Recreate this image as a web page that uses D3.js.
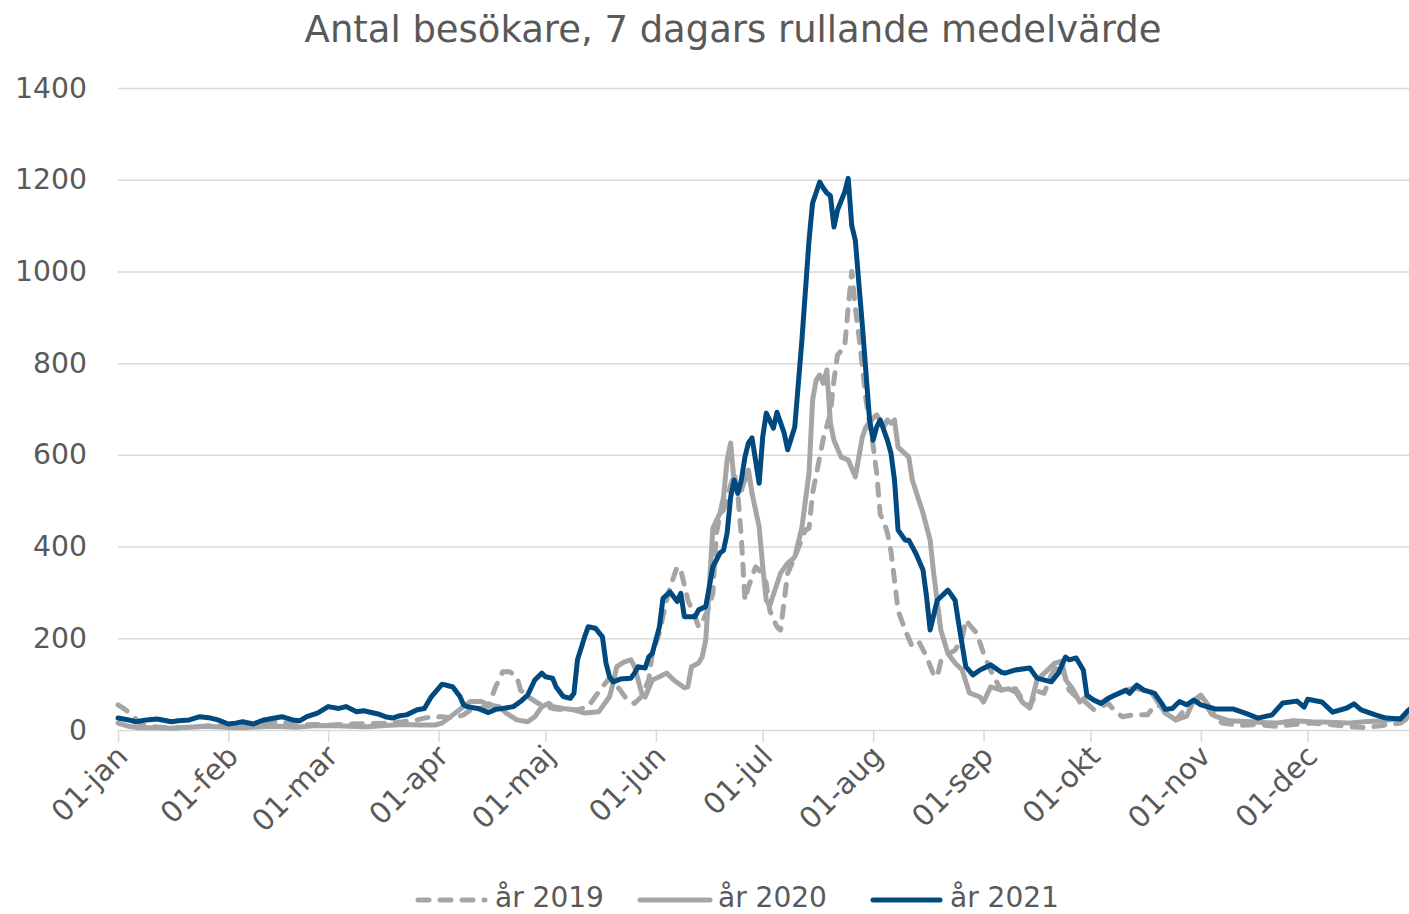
<!DOCTYPE html>
<html><head><meta charset="utf-8">
<script src="https://cdn.jsdelivr.net/npm/d3@7"></script>
<style>
body{margin:0;background:#fff}
svg text{font-family:"DejaVu Sans",sans-serif;fill:#595959}
</style>
</head><body>
<svg id="c" width="1409" height="914"></svg>
<script>
const chartTitle = "Antal besökare, 7 dagars rullande medelvärde";
const monthLabels = ["01-jan","01-feb","01-mar","01-apr","01-maj","01-jun","01-jul","01-aug","01-sep","01-okt","01-nov","01-dec"];
const monthDays = [0,31,59,90,120,151,181,212,243,273,304,334];
const yTickValues = [0,200,400,600,800,1000,1200,1400];
const seriesNames = ["år 2019","år 2020","år 2021"];

const days2019 = [0,2,4,6,8,12,16,20,25,30,35,40,43,46,50,55,60,65,70,75,80,84,86,89,91,94,97,99,104,106,108,110,112,113,115,118,122,125,129,132,134,136,138,141,143,145,147,149,150,152,154,155,157,158,160,162,163,164,166,167,168,169,170,171,173,174,175,176,177,179,180,181,182,183,185,186,188,190,193,194,195,197,198,200,201,202,204,205,206,207,208,210,212,213,214,215,216,217,218,219,221,223,225,227,229,230,231,233,235,237,238,239,241,242,243,245,247,248,250,252,254,256,258,260,262,264,266,267,269,271,274,278,280,282,285,289,291,293,295,297,299,301,303,305,307,310,315,320,325,330,335,340,345,350,355,360,363];
const values2019 = [55,45,33,15,9,6,5,6,9,10,8,12,18,18,10,12,11,13,14,15,18,22,26,29,29,26,33,44,51,94,127,127,116,87,73,58,47,44,44,51,73,94,113,87,65,58,73,109,167,212,283,312,356,349,283,247,225,235,269,298,429,470,480,508,560,516,420,283,312,356,349,335,320,260,225,218,342,377,436,440,517,595,635,691,763,818,835,922,1000,920,860,720,620,560,470,455,430,390,327,260,218,181,190,160,120,116,150,165,174,200,240,230,212,190,167,130,100,87,90,90,65,51,85,80,120,145,116,87,73,65,44,58,40,29,33,33,53,53,29,22,40,55,69,60,35,15,10,12,8,12,15,12,8,5,10,15,30];

const days2020 = [0,3,6,10,15,20,25,30,35,40,45,50,55,60,65,70,75,80,85,89,91,94,97,99,102,104,107,109,112,115,117,119,121,122,125,128,131,135,138,139,140,142,144,145,147,148,150,152,154,156,159,160,161,163,164,165,166,167,169,170,171,172,173,175,177,178,180,181,182,183,186,188,190,192,194,195,196,197,198,199,200,201,203,205,207,209,210,212,213,215,216,217,218,219,222,223,226,228,229,231,233,235,237,239,242,243,245,248,250,252,254,256,258,261,263,265,266,268,270,272,276,279,285,290,294,297,300,302,304,306,308,312,318,325,330,335,340,345,350,355,360,363];
const values2020 = [15,8,5,5,4,6,8,6,5,7,8,6,9,10,8,7,10,12,11,11,15,33,51,62,62,55,51,37,22,18,29,51,58,51,47,44,37,40,73,102,138,148,153,138,81,72,109,116,124,109,92,94,138,146,159,196,312,440,473,508,589,626,538,523,567,516,443,356,283,272,342,364,377,442,560,719,763,774,756,785,669,632,595,589,552,640,661,680,687,661,676,669,676,617,595,545,473,414,342,218,167,146,131,81,72,61,94,87,90,83,60,48,109,131,146,150,110,90,61,73,58,73,92,83,37,22,30,65,76,55,30,20,18,15,20,18,17,15,18,20,25,30];

const days2021 = [0,3,5,8,11,15,17,20,23,26,28,31,33,35,38,41,44,46,49,51,53,56,59,62,64,67,69,73,75,77,79,81,84,86,88,91,93,94,96,97,98,101,104,106,108,111,113,115,117,119,120,122,123,125,127,128,129,131,132,134,136,137,138,139,141,144,145,146,148,149,150,152,153,155,157,158,159,162,163,165,166,167,169,170,171,172,173,174,175,176,177,178,180,181,182,184,185,187,188,190,192,194,195,197,198,199,200,201,202,204,205,206,207,209,211,212,213,214,216,217,218,219,221,222,224,226,227,228,230,233,235,236,238,240,242,245,248,249,252,256,258,262,264,266,267,269,271,272,274,276,278,281,283,284,286,288,291,293,294,296,298,300,302,304,308,313,317,320,324,327,331,333,334,338,341,345,347,349,353,356,360,362,363];
const values2021 = [26,22,18,22,24,18,20,22,29,26,22,13,15,18,13,22,26,29,22,20,29,37,51,47,51,40,42,35,29,26,31,33,44,47,73,100,96,94,73,55,51,47,38,45,47,51,62,76,109,124,116,113,94,73,69,80,153,203,225,222,203,146,116,105,111,113,124,138,135,159,167,225,287,301,280,298,247,247,262,269,312,356,386,392,429,508,545,516,545,595,626,637,538,639,691,658,693,648,611,661,850,1068,1149,1195,1182,1171,1165,1097,1134,1173,1203,1100,1068,879,676,632,661,676,632,604,545,436,414,414,385,349,290,218,283,305,283,233,138,120,131,142,126,124,131,135,113,105,124,159,153,157,131,76,65,58,69,80,87,80,98,87,80,58,45,47,62,55,65,55,46,46,35,26,33,59,63,50,67,61,39,48,57,44,33,26,24,41,48];

const svg = d3.select("#c");
const plotLeft = 118, plotRight = 1409, plotTop = 88, plotBottom = 730;
const x = d3.scaleLinear().domain([0, 363]).range([plotLeft, 1411]);
const y = d3.scaleLinear().domain([0, 1400]).range([plotBottom, plotTop]);

function fit(sel, target){
  const w = sel.node().getComputedTextLength();
  const fs = parseFloat(sel.style("font-size"));
  return fs * target / w;
}

// title
const t = svg.append("text").attr("x", 733).attr("y", 42).attr("text-anchor", "middle")
  .style("font-size", "31px").text(chartTitle);
t.style("font-size", fit(t, 857) + "px");

// y axis with gridlines
const yAxis = svg.append("g").attr("transform", `translate(${plotLeft},0)`)
  .call(d3.axisLeft(y).tickValues(yTickValues).tickSize(-(plotRight - plotLeft)).tickPadding(31).tickFormat(d3.format("d")));
yAxis.select(".domain").remove();
yAxis.selectAll(".tick line").attr("stroke", "#d9d9d9").attr("stroke-width", 1.5);
yAxis.selectAll(".tick text").style("font-size", "27px");
const y1400 = yAxis.selectAll(".tick text").filter(d => d === 1400);
const yfs = fit(y1400, 72);
yAxis.selectAll(".tick text").style("font-size", yfs + "px");

// x axis
const xAxis = svg.append("g").attr("transform", `translate(0,${plotBottom})`)
  .call(d3.axisBottom(x).tickValues(monthDays).tickSize(12).tickFormat((d, i) => monthLabels[i]));
xAxis.select(".domain").remove();
xAxis.selectAll(".tick line").attr("stroke", "#d9d9d9").attr("stroke-width", 1.5);
xAxis.selectAll(".tick text")
  .style("font-size", (yfs * 1.04) + "px")
  .attr("x", 0).attr("y", 0).attr("dy", 0)
  .attr("text-anchor", "end")
  .attr("transform", "translate(11,28) rotate(-45)");

// series
const series = [
  {name: seriesNames[0], days: days2019, values: values2019, color: "#a5a5a5", dash: "11,11"},
  {name: seriesNames[1], days: days2020, values: values2020, color: "#a5a5a5", dash: null},
  {name: seriesNames[2], days: days2021, values: values2021, color: "#004a80", dash: null}
];
const line = d3.line().x(d => x(d[0])).y(d => y(d[1]));
series.forEach(s => {
  const pts = s.days.map((d, i) => [d, s.values[i]]);
  svg.append("path").datum(pts).attr("d", line)
    .attr("fill", "none").attr("stroke", s.color).attr("stroke-width", 5)
    .attr("stroke-linejoin", "round").attr("stroke-linecap", "round")
    .attr("stroke-dasharray", s.dash);
});

// legend
const legendPos = [[418, 485, 495], [640, 710, 718], [873, 940, 950]];
const lg = svg.append("g");
series.forEach((s, i) => {
  const p = legendPos[i];
  lg.append("line").attr("x1", p[0]).attr("x2", p[1]).attr("y1", 900).attr("y2", 900)
    .attr("stroke", s.color).attr("stroke-width", 5).attr("stroke-linecap", "round")
    .attr("stroke-dasharray", s.dash);
  lg.append("text").attr("x", p[2]).attr("y", 907).style("font-size", "27px").text(s.name);
});
const lt = lg.selectAll("text").filter((d, i) => i === 0);
const lfs = fit(lt, 109);
lg.selectAll("text").style("font-size", lfs + "px");
</script>
</body></html>
